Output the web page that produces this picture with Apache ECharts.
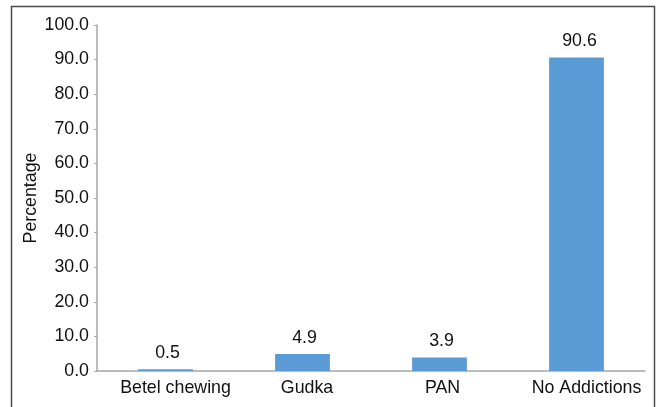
<!DOCTYPE html>
<html>
<head>
<meta charset="utf-8">
<script src="https://cdn.jsdelivr.net/npm/echarts@6/dist/echarts.min.js"></script>
<style>
  html, body { margin: 0; padding: 0; background: #fff; }
  #chart { width: 657px; height: 407px; }
</style>
</head>
<body>
<div id="chart"></div>
<script>
// Addiction categories and their share of respondents (%)
const categories = ['Betel chewing', 'Gudka', 'PAN', 'No Addictions'];
const percentages = [0.5, 4.9, 3.9, 90.6];
const yMin = 0;
const yMax = 100;
const yStep = 10;
const yTitle = 'Percentage';

const FONT = 'Liberation Sans, Arial, sans-serif';
const FONT_SIZE = 17.8;
const AXIS_GRAY = '#A6A6A6';
const TEXT = '#111';

// Labels sit slightly right of their anchor (left edge at centre - 0.41 * width);
// a left padding of 0.18 * width shifts a centred label by that amount.
const measureCtx = document.createElement('canvas').getContext('2d');
measureCtx.font = FONT_SIZE + 'px ' + FONT;
const nudge = s => Math.round(measureCtx.measureText(s).width * 0.18);

const catRich = {};
categories.forEach((c, i) => {
  catRich['c' + i] = {
    color: TEXT, fontSize: FONT_SIZE, fontFamily: FONT,
    padding: [0, 0, 0, nudge(c)]
  };
});

const barData = percentages.map(v => ({
  value: v,
  label: { padding: [0, 0, 0, nudge(v.toFixed(1))] }
}));

const chart = echarts.init(document.getElementById('chart'), null, { renderer: 'canvas' });

chart.setOption({
  animation: false,
  backgroundColor: '#ffffff',
  textStyle: { fontFamily: FONT },
  graphic: [{
    type: 'rect',
    shape: { x: 11.5, y: 6.5, width: 643, height: 420 },
    style: { fill: 'none', stroke: '#4a4a4a', lineWidth: 1.5 },
    silent: true
  }],
  grid: { left: 97, right: 12, top: 25, bottom: 36, containLabel: false },
  xAxis: {
    type: 'category',
    data: categories,
    axisLine: { show: true, lineStyle: { color: AXIS_GRAY, width: 1.5 } },
    axisTick: { show: false },
    axisLabel: {
      color: TEXT, fontSize: FONT_SIZE, fontFamily: FONT, margin: 8, interval: 0,
      formatter: (v, i) => '{c' + i + '|' + v + '}',
      rich: catRich
    },
    splitLine: { show: false }
  },
  yAxis: {
    type: 'value',
    min: yMin,
    max: yMax,
    interval: yStep,
    name: yTitle,
    nameLocation: 'middle',
    nameGap: 57,
    nameMoveOverlap: false,
    nameRotate: 90,
    nameTextStyle: { color: TEXT, fontSize: FONT_SIZE, fontFamily: FONT },
    axisLine: { show: true, lineStyle: { color: AXIS_GRAY, width: 1.5 } },
    axisTick: { show: true, length: 3, lineStyle: { color: AXIS_GRAY, width: 1 } },
    axisLabel: {
      color: TEXT, fontSize: FONT_SIZE, fontFamily: FONT, margin: 8,
      formatter: v => v.toFixed(1)
    },
    splitLine: { show: false }
  },
  series: [{
    type: 'bar',
    data: barData,
    barWidth: '40%',
    itemStyle: { color: '#5B9BD5' },
    label: {
      show: true,
      position: 'top',
      distance: 7,
      color: TEXT,
      fontSize: FONT_SIZE,
      fontFamily: FONT,
      formatter: p => p.value.toFixed(1)
    }
  }]
});
</script>
</body>
</html>
